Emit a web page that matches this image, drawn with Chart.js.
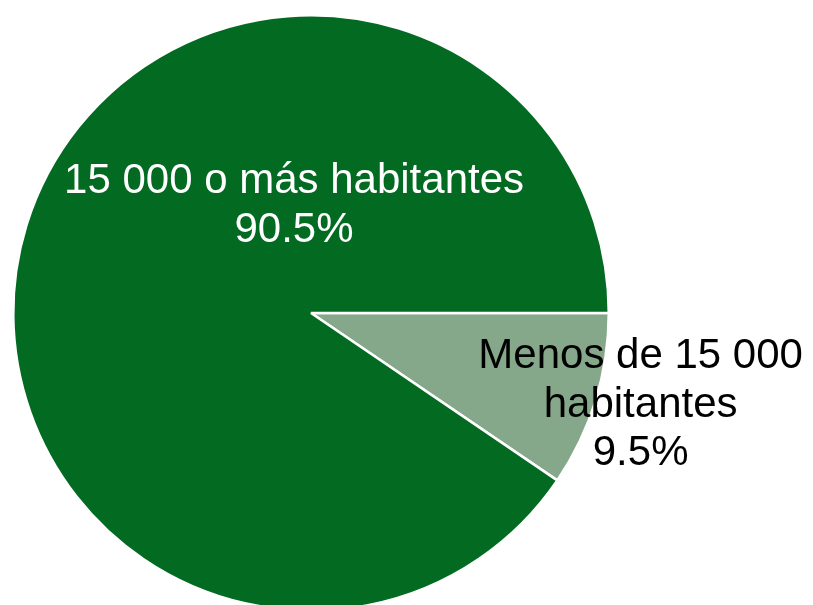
<!DOCTYPE html>
<html>
<head>
<meta charset="utf-8">
<title>Población por tamaño de localidad</title>
<script src="https://cdn.jsdelivr.net/npm/chart.js"></script>
<style>
  html, body { margin: 0; padding: 0; background: #fff; overflow: hidden; }
  #wrap { position: absolute; left: 0; top: 0; width: 813px; height: 625px; }
</style>
</head>
<body>
<div id="wrap"><canvas id="pie"></canvas></div>
<script>
// datos del gráfico
const categorias = ['Menos de 15 000 habitantes', '15 000 o más habitantes'];
const porcentajes = [9.5, 90.5];
const colores = ['#86a88a', '#026a21'];
// texto de las etiquetas (por línea)
const etiquetas = [
  ['Menos de 15 000', 'habitantes', '9.5%'],
  ['15 000 o más habitantes', '90.5%']
];
const coloresTexto = ['#000000', '#ffffff'];

// posición de cada etiqueta relativa al centro, en fracciones del radio
const posEtiquetas = [
  { fx: 1.107, fy: 0.185 },
  { fx: -0.057, fy: -0.403 }
];

const etiquetasPlugin = {
  id: 'etiquetas',
  afterDatasetsDraw(chart) {
    const ctx = chart.ctx;
    const arcs = chart.getDatasetMeta(0).data;
    ctx.save();
    ctx.font = '42px "Liberation Sans", Arial, sans-serif';
    ctx.textAlign = 'center';
    ctx.textBaseline = 'alphabetic';
    arcs.forEach((arc, i) => {
      const r = arc.outerRadius;
      const x = arc.x + posEtiquetas[i].fx * r;
      const y0 = arc.y + posEtiquetas[i].fy * r;
      ctx.fillStyle = coloresTexto[i];
      etiquetas[i].forEach((linea, j) => {
        ctx.fillText(linea, x, y0 + j * 48.5);
      });
    });
    ctx.restore();
  }
};

const pie = new Chart(document.getElementById('pie').getContext('2d'), {
  type: 'pie',
  data: {
    labels: categorias,
    datasets: [{
      data: porcentajes,
      backgroundColor: colores,
      borderColor: '#ffffff',
      borderWidth: 2.5
    }]
  },
  options: {
    responsive: true,
    maintainAspectRatio: false,
    animation: false,
    rotation: 90,
    layout: { padding: { left: 12, right: 203, top: 14, bottom: 13 } },
    plugins: {
      legend: { display: false },
      tooltip: { enabled: false }
    }
  },
  plugins: [etiquetasPlugin]
});
</script>
</body>
</html>
